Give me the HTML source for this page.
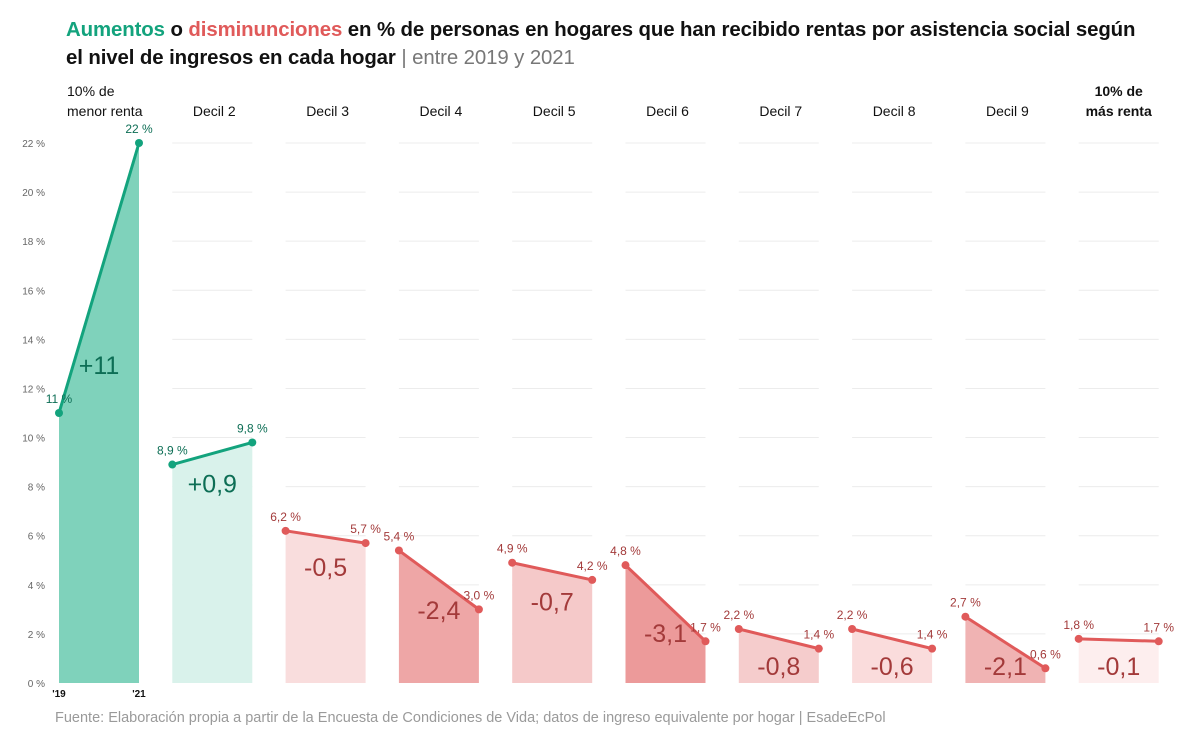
<!DOCTYPE html>
<html><head><meta charset="utf-8"><style>
body{margin:0;background:#fff;font-family:"Liberation Sans",sans-serif;}
#wrap{position:relative;width:1200px;height:745px;overflow:hidden}
.title{position:absolute;left:66px;top:16px;font-size:20.4px;font-weight:bold;color:#111;line-height:28px;letter-spacing:-0.1px}
.src{position:absolute;left:55px;top:710px;font-size:14.5px;color:#9a9a9a}
</style></head><body>
<div id="wrap">
<div class="title"><span style="color:#13a37d">Aumentos</span> o <span style="color:#e05a5a">disminunciones</span> en % de personas en hogares que han recibido rentas por asistencia social según<br>el nivel de ingresos en cada hogar <span style="font-weight:normal;color:#777">| entre 2019 y 2021</span></div>
<svg id="svg" width="1200" height="745" style="position:absolute;left:0;top:0"></svg>
<div class="src">Fuente: Elaboración propia a partir de la Encuesta de Condiciones de Vida; datos de ingreso equivalente por hogar | EsadeEcPol</div>
</div>
<script>
const deciles=["10% de|menor renta","Decil 2","Decil 3","Decil 4","Decil 5","Decil 6","Decil 7","Decil 8","Decil 9","10% de|más renta"];
const v2019=[11,8.9,6.2,5.4,4.9,4.8,2.2,2.2,2.7,1.8];
const v2021=[22,9.8,5.7,3.0,4.2,1.7,1.4,1.4,0.6,1.7];
const changes=["+11","+0,9","-0,5","-2,4","-0,7","-3,1","-0,8","-0,6","-2,1","-0,1"];
const lab2019=["11 %","8,9 %","6,2 %","5,4 %","4,9 %","4,8 %","2,2 %","2,2 %","2,7 %","1,8 %"];
const lab2021=["22 %","9,8 %","5,7 %","3,0 %","4,2 %","1,7 %","1,4 %","1,4 %","0,6 %","1,7 %"];
const fills=["#7fd2bb","#d9f2eb","#f9dddd","#eea6a6","#f5c9c9","#ec9a9a","#f5cccc","#fadcdc","#f0b3b3","#fdeeee"];
const yTicks=[0,2,4,6,8,10,12,14,16,18,20,22];
const NS="http://www.w3.org/2000/svg";
const svg=document.getElementById('svg');
const y=v=>683-v*540/22;
const px0=i=>59+i*113.3, PW=80;
function mk(t,a,txt){const e=document.createElementNS(NS,t);for(const k in a)e.setAttribute(k,a[k]);if(txt!=null)e.textContent=txt;svg.appendChild(e);return e;}
yTicks.forEach(t=>{
 const e=mk('text',{x:45,y:y(t)+4,'text-anchor':'end','font-size':10,fill:'#666'},t+' %');
 
 
});
deciles.forEach((d,i)=>{
 const x0=px0(i),x1=x0+PW;
 if(i>0) yTicks.forEach(t=>{if(t>0){const g=mk('line',{x1:x0,x2:x1,y1:y(t),y2:y(t),stroke:'#ececec','stroke-width':1});}});
 const up=v2021[i]>=v2019[i];
 const lc=up?'#13a37d':'#e05a5a', tc=up?'#0d6e55':'#a33a3a';
 const a=mk('polygon',{points:`${x0},${y(0)} ${x0},${y(v2019[i])} ${x1},${y(v2021[i])} ${x1},${y(0)}`,fill:fills[i]});
 
 
 const l=mk('line',{x1:x0,y1:y(v2019[i]),x2:x1,y2:y(v2021[i]),stroke:lc,'stroke-width':3});
 
 
 [[x0,v2019[i]],[x1,v2021[i]]].forEach(p=>{const c=mk('circle',{cx:p[0],cy:y(p[1]),r:4,fill:lc});});
 const t1=mk('text',{x:x0,y:y(v2019[i])-10,'text-anchor':'middle','font-size':12,fill:tc},lab2019[i]);
 
 
 const t2=mk('text',{x:x1,y:y(v2021[i])-10,'text-anchor':'middle','font-size':12,fill:tc},lab2021[i]);
 
 
 const avg=(v2019[i]+v2021[i])/2;
 const center=i==0?y(v2019[i])-48:Math.min(y(avg)+30,666);
 const ct=mk('text',{x:x0+PW/2,y:center+9,'text-anchor':'middle','font-size':25,fill:tc},changes[i]);
 
 
 const parts=d.split('|');
 const hx=i==9?x0+PW/2:x0+PW/2+2;
 parts.forEach((p,k)=>{
  const yy=parts.length==2?96+k*20:116;
  const h=mk('text',{x:i==0?67:hx,y:yy,'text-anchor':i==0?'start':'middle','font-size':14,'font-weight':i==9?'bold':'normal',fill:'#111'},p);
  
  
 });
});
const a1=mk('text',{x:59,y:697,'text-anchor':'middle','font-size':10,'font-weight':'bold',fill:'#111'},"'19");

const a2=mk('text',{x:139,y:697,'text-anchor':'middle','font-size':10,'font-weight':'bold',fill:'#111'},"'21");

</script>
</body></html>
